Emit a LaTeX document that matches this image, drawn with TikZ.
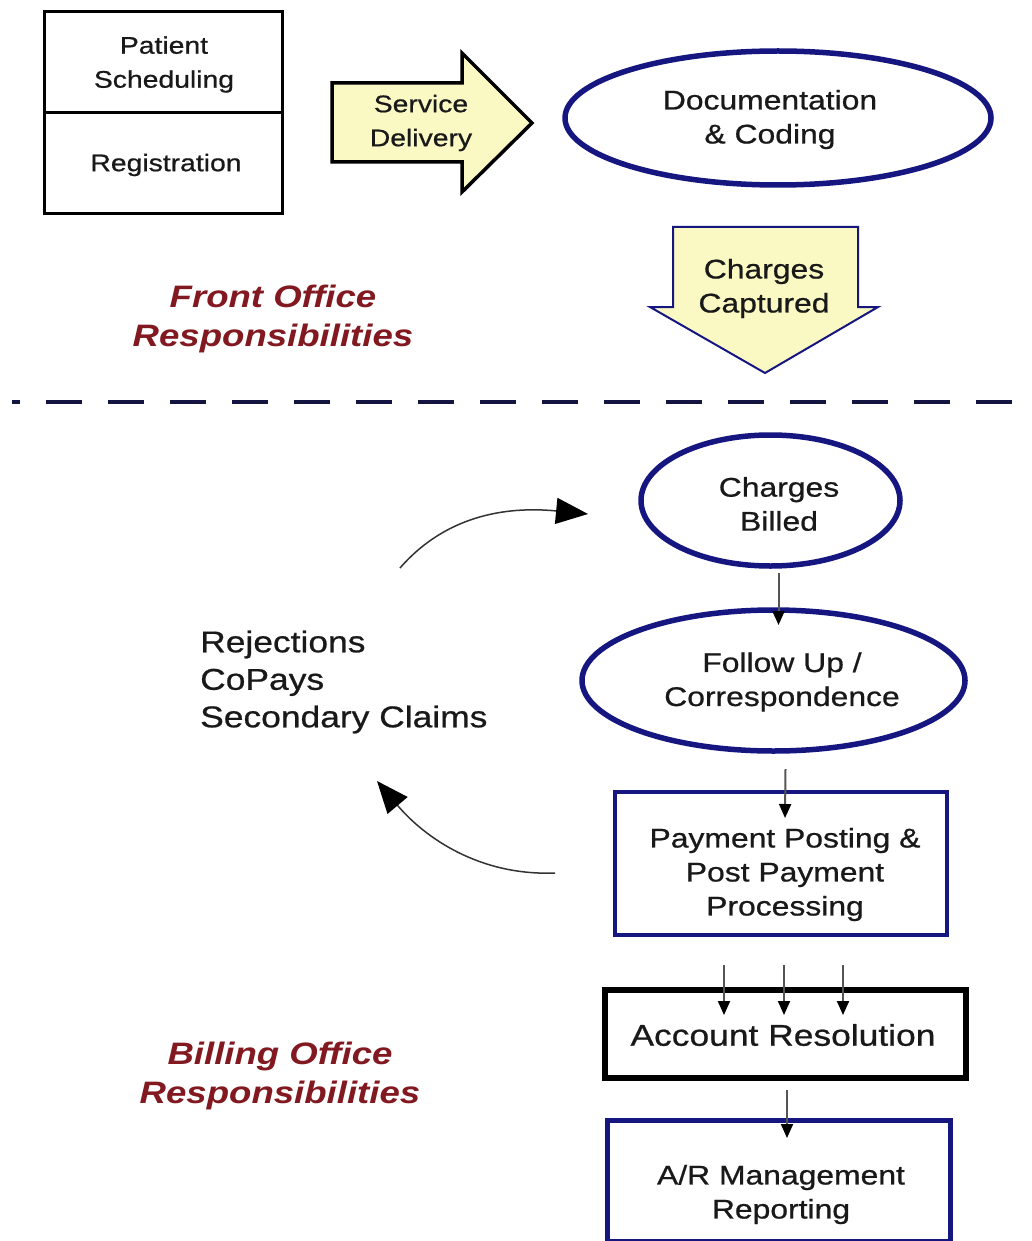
\documentclass[tikz,border=0pt]{standalone}
\usepackage{fontspec}
\setmainfont{Liberation Sans}[FakeStretch=1.18]
\newfontfamily\diagfont{Liberation Sans}[FakeStretch=1.18, FakeBold=0.7]
\usetikzlibrary{shapes.geometric,arrows.meta,calc}
\definecolor{navy}{RGB}{22,22,128}
\definecolor{pale}{RGB}{250,249,196}
\definecolor{txt}{RGB}{25,25,25}
\definecolor{darkred}{RGB}{130,24,32}
\definecolor{dashc}{RGB}{20,20,64}
\definecolor{conn}{RGB}{85,85,85}
\begin{document}
\begin{tikzpicture}[x=1pt,y=-1pt,
  box/.style={draw, rectangle, inner sep=0pt, outer sep=0pt},
  oval/.style={draw=navy, ellipse, line width=5.5pt, inner sep=0pt, outer sep=0pt},
  lbl/.style={text=txt, align=center, inner sep=0pt, font=\diagfont\fontsize{27}{34}\selectfont},
  lblsm/.style={text=txt, align=center, inner sep=0pt, font=\diagfont\fontsize{24}{34}\selectfont},
  lblbig/.style={text=txt, inner sep=0pt, font=\diagfont\fontsize{30}{37.5}\selectfont},
  redlbl/.style={text=darkred, align=center, inner sep=0pt, font=\fontsize{31}{39}\selectfont\bfseries\itshape},
  small/.style={draw=conn, line width=2pt, -{Triangle[length=14pt,width=12pt,color=black]}},
  curv/.style={draw=black!80, line width=1.5pt, -{Triangle[length=32pt,width=26pt,color=black]}},
  blockarrow/.style={fill=pale, line join=miter}
]
\useasboundingbox (0,0) rectangle (1032,1241);
\fill[white] (0,0) rectangle (1032,1241);

% top-left boxes
\node[box, line width=3pt, minimum width=238pt, minimum height=101pt] (ps) at (163,62.5) {};
\node[box, line width=3pt, minimum width=238pt, minimum height=101pt] (reg) at (163,163.5) {};
\node[lblsm] (pst) at (164,64.5) {Patient\\Scheduling};
\node[lblsm] (regt) at (166,165) {Registration};

% service delivery block arrow
\draw[blockarrow, line width=3.5pt] (332,83) -- (462,83) -- (462,53) -- (532,123) -- (462,192) -- (462,162) -- (332,162) -- cycle;
\node[lblsm] (sd) at (421,123) {Service\\Delivery};

% documentation ellipse
\node[oval, minimum width=426pt, minimum height=134pt] (doc) at (778,118) {};
\node[lbl] (doct) at (770,119.5) {Documentation\\\& Coding};

% charges captured block arrow
\draw[blockarrow, draw=navy, line width=2pt] (673,227) -- (858,227) -- (858,307) -- (878,307) -- (765,373) -- (650,307) -- (673,307) -- cycle;
\node[lbl] (cc) at (764,288.5) {Charges\\Captured};

% front office label
\node[redlbl] (fo) at (273,319) {Front Office\\Responsibilities};

% dashed divider
\draw[dashc, line width=4pt, dash pattern=on 36pt off 26pt, dash phase=28pt] (12,402) -- (1032,402);

% billing side
\node[oval, minimum width=259pt, minimum height=131pt] (cb) at (770.5,500.5) {};
\node[lbl] (cbt) at (779,504) {Charges\\Billed};

\node[oval, minimum width=383pt, minimum height=141pt] (fu) at (773.5,680.5) {};
\node[lbl] (fut) at (782,682) {Follow Up /\\Correspondence};

\node[box, draw=navy, line width=4.5pt, minimum width=332pt, minimum height=143pt] (pp) at (781,863.5) {};
\node[lbl] (ppt) at (785,874.5) {Payment Posting \&\\Post Payment\\Processing};

\node[box, line width=6pt, minimum width=361pt, minimum height=88pt] (ar) at (785.5,1034) {};
\node[lblbig] (art) at (783,1035) {Account Resolution};

\node[box, draw=navy, line width=5pt, minimum width=343pt, minimum height=121pt] (mr) at (778.5,1180.5) {};
\node[lbl] (mrt) at (781,1194.5) {A/R Management\\Reporting};

% left list
\node[lblbig, anchor=west, align=left] (lst) at (200,682) {Rejections\\CoPays\\Secondary Claims};

\node[redlbl] (bo) at (280,1075.5) {Billing Office\\Responsibilities};

% small connectors
\draw[small] ($(cb.south)+(8,7)$) -- ($(fu.north)+(5,15)$);
\draw[small] ($(fu.south)+(12,18)$) -- ($(pp.north)+(4,26)$);
\draw[small] ($(pp.south)+(-57,30)$) -- ($(ar.north)+(-61.5,25)$);
\draw[small] ($(pp.south)+(3,30)$) -- ($(ar.north)+(-1.5,25)$);
\draw[small] ($(pp.south)+(62,30)$) -- ($(ar.north)+(57.5,25)$);
\draw[small] ($(ar.south)+(1.5,12)$) -- ($(mr.north)+(8.5,18)$);

% curved feedback arrows
\coordinate (c1s) at (400,568);
\coordinate (c1e) at (588,514);
\draw[curv] (c1s) .. controls (440,522) and (495,505) .. (c1e);
\coordinate (c2s) at (555,873);
\coordinate (c2e) at (377,781);
\draw[curv] (c2s) .. controls (480,876) and (425,838) .. (c2e);
\end{tikzpicture}
\end{document}
